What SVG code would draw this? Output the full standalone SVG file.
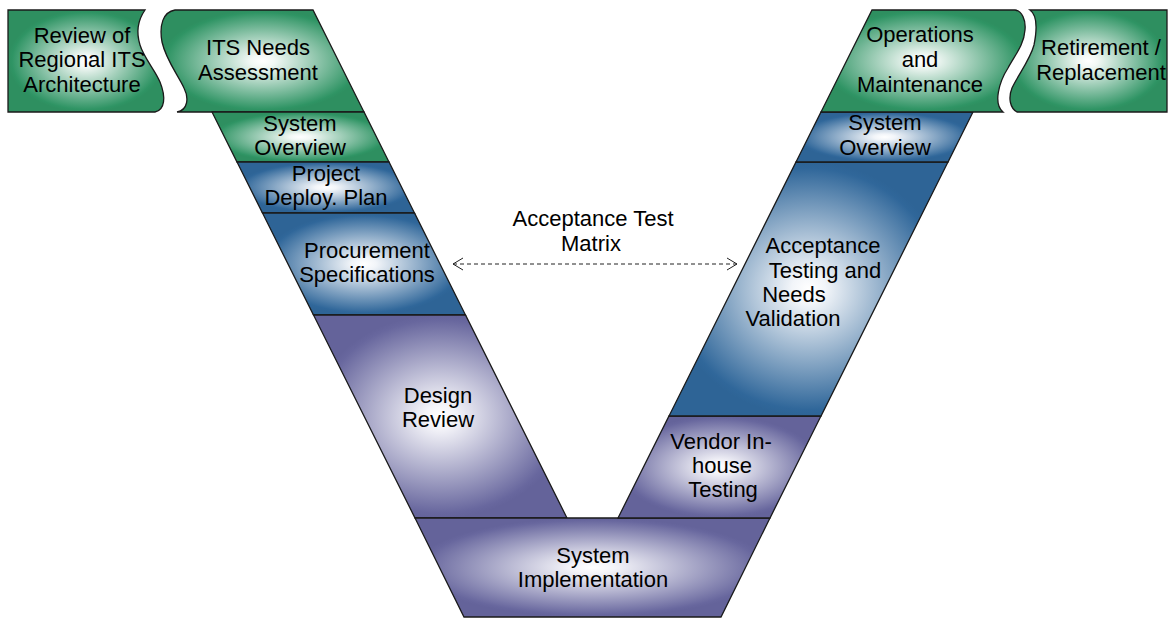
<svg xmlns="http://www.w3.org/2000/svg" width="1169" height="618" viewBox="0 0 1169 618">
<defs>
<radialGradient id="gGreen" cx="50%" cy="50%" r="50%">
<stop offset="0" stop-color="#ffffff"/>
<stop offset="0.12" stop-color="#f2f8f5"/>
<stop offset="0.95" stop-color="#2f9464"/>
<stop offset="1" stop-color="#2e8f60"/>
</radialGradient>
<radialGradient id="gBlue" cx="50%" cy="50%" r="50%">
<stop offset="0" stop-color="#ffffff"/>
<stop offset="0.12" stop-color="#f2f5f9"/>
<stop offset="0.95" stop-color="#30679a"/>
<stop offset="1" stop-color="#2e6496"/>
</radialGradient>
<radialGradient id="gPurple" cx="50%" cy="50%" r="50%">
<stop offset="0" stop-color="#ffffff"/>
<stop offset="0.12" stop-color="#f4f4f9"/>
<stop offset="0.95" stop-color="#68679e"/>
<stop offset="1" stop-color="#64639a"/>
</radialGradient>
<marker id="chev" viewBox="0 0 12 14" refX="11" refY="7" markerWidth="12" markerHeight="14" markerUnits="userSpaceOnUse" orient="auto-start-reverse">
<path d="M1,1 L11,7 L1,13" fill="none" stroke="#222222" stroke-width="1"/>
</marker>
<style>
.s{stroke:#1a1a1a;stroke-width:1.3;stroke-linejoin:miter}
.g{fill:url(#gGreen)}
.b{fill:url(#gBlue)}
.p{fill:url(#gPurple)}
text{font-family:"Liberation Sans",Arial,sans-serif;font-size:22px;fill:#000;text-anchor:middle}
.c{stroke:#222222;stroke-width:1;stroke-dasharray:4 3;fill:none}
</style>
</defs>

<g id="review-regional-its">
<path class="s g" d="M8,10 L145,10 C138,20 136,32 140,45 C144,58 155,70 160,82 C166,97 165,110 155,112 L8,112 Z"/>
<text x="82" y="43">Review of</text>
<text x="82" y="67">Regional ITS</text>
<text x="82" y="92">Architecture</text>
</g>

<g id="its-needs-assessment">
<path class="s g" d="M175,10 L313,10 L364,112 L177,112 C188,110 189,98 184,88 C178,75 166,60 162,42 C159,25 163,12 175,10 Z"/>
<text x="258" y="55">ITS Needs</text>
<text x="258" y="80">Assessment</text>
</g>

<g id="system-overview-left">
<path class="s g" d="M212,112 L364,112 L389,162 L237,162 Z"/>
<text x="300" y="131">System</text>
<text x="300" y="155">Overview</text>
</g>

<g id="project-deploy-plan">
<path class="s b" d="M237,162 L389,162 L414.5,213 L262.5,213 Z"/>
<text x="326" y="181">Project</text>
<text x="326" y="205">Deploy. Plan</text>
</g>

<g id="procurement-specifications">
<path class="s b" d="M262.5,213 L414.5,213 L465.5,315 L313.5,315 Z"/>
<text x="367" y="258">Procurement</text>
<text x="367" y="282">Specifications</text>
</g>

<g id="design-review">
<path class="s p" d="M313.5,315 L465.5,315 L567,518 L415,518 Z"/>
<text x="438" y="403">Design</text>
<text x="438" y="427">Review</text>
</g>

<g id="system-implementation">
<path class="s p" d="M415,518 L770,518 L721,617 L464,617 Z"/>
<text x="593" y="563">System</text>
<text x="593" y="587">Implementation</text>
</g>

<g id="vendor-inhouse-testing">
<path class="s p" d="M669,416 L821,416 L770,518 L618,518 Z"/>
<text x="721" y="449">Vendor In-</text>
<text x="722" y="473">house</text>
<text x="723" y="497">Testing</text>
</g>

<g id="acceptance-testing">
<path class="s b" d="M796,162 L948,162 L821,416 L669,416 Z"/>
<text x="823" y="253">Acceptance</text>
<text x="825" y="278">Testing and</text>
<text x="794" y="302">Needs</text>
<text x="793" y="326">Validation</text>
</g>

<g id="system-overview-right">
<path class="s b" d="M821,112 L973,112 L948,162 L796,162 Z"/>
<text x="885" y="130">System</text>
<text x="885" y="155">Overview</text>
</g>

<g id="operations-maintenance">
<path class="s g" d="M872,10 L1015,10 C1022,11 1026,20 1025,30 C1024,45 1015,55 1008,68 C999,82 993,104 1003,112 L821,112 Z"/>
<text x="920" y="42">Operations</text>
<text x="920" y="67">and</text>
<text x="920" y="92">Maintenance</text>
</g>

<g id="retirement-replacement">
<path class="s g" d="M1030,10 L1167,10 L1167,112 L1017,112 C1010,108 1008,98 1012,88 C1018,75 1030,60 1034,45 C1037,30 1037,15 1030,10 Z"/>
<text x="1101" y="55">Retirement /</text>
<text x="1101" y="80">Replacement</text>
</g>

<g id="connectors">
<line class="c" x1="453" y1="264" x2="737" y2="264" marker-start="url(#chev)" marker-end="url(#chev)"/>
<text x="593" y="226">Acceptance Test</text>
<text x="591" y="251">Matrix</text>
</g>
</svg>
